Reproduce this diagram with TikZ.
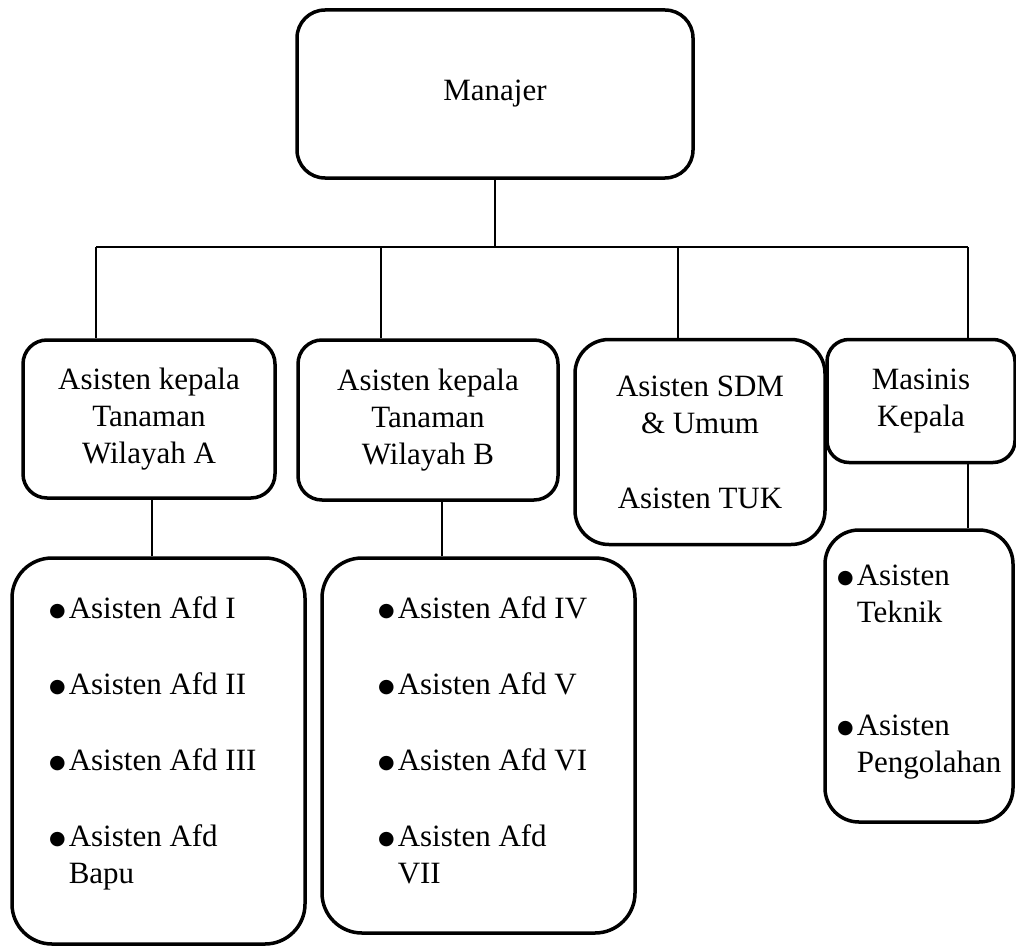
\documentclass[tikz,border=0pt]{standalone}
\usepackage{fontspec}
\setmainfont{Liberation Serif}
\newfontfamily\dotfont{DejaVu Sans}
\newcommand\itemdot{\raisebox{2pt}{\fontsize{19}{37}\dotfont ●}}
\begin{document}
\begin{tikzpicture}[x=1pt, y=-1pt,
  box/.style={draw, line width=3.5pt, rounded corners=#1, align=center, inner sep=0pt},
  box/.default=24pt,
  list/.style={anchor=north west, inner sep=0pt, align=left},
  link/.style={line width=1.3pt},
  font=\fontsize{31}{37}\selectfont]
\useasboundingbox (0,0) rectangle (1016,947);

% top
\node[box=28pt, minimum width=396pt, minimum height=168pt] (manajer) at (495,94) {Manajer};

% second level
\node[box, minimum width=252pt, minimum height=158pt] (kepA) at (149,419) {Asisten kepala\\Tanaman\\Wilayah A};
\node[box, minimum width=260pt, minimum height=160pt] (kepB) at (428,420) {Asisten kepala\\Tanaman\\Wilayah B};
\node[box=34pt, minimum width=250pt, minimum height=205pt] (sdm) at (700,442) {Asisten SDM\\\& Umum\\[38pt]Asisten TUK};
\node[box=22pt, minimum width=188pt, minimum height=123pt] (masinis) at (921,401) {Masinis\\Kepala};

% third level
\node[box=40pt, minimum width=293pt, minimum height=386pt] (afdA) at (158.5,751) {};
\node[box=40pt, minimum width=313pt, minimum height=375pt] (afdB) at (478.5,745.5) {};
\node[box=34pt, minimum width=188pt, minimum height=292pt] (teknik) at (919,676) {};

\node[list] (afdA-txt) at (49,592) {\begin{tabular}{@{}l@{\hspace{3pt}}l@{}}
\itemdot & Asisten Afd I\\[39pt]
\itemdot & Asisten Afd II\\[39pt]
\itemdot & Asisten Afd III\\[39pt]
\itemdot & Asisten Afd\\
 & Bapu
\end{tabular}};
\node[list] (afdB-txt) at (378,592) {\begin{tabular}{@{}l@{\hspace{3pt}}l@{}}
\itemdot & Asisten Afd IV\\[39pt]
\itemdot & Asisten Afd V\\[39pt]
\itemdot & Asisten Afd VI\\[39pt]
\itemdot & Asisten Afd\\
 & VII
\end{tabular}};
\node[list] (teknik-txt) at (837,559) {\begin{tabular}{@{}l@{\hspace{3pt}}l@{}}
\itemdot & Asisten\\
 & Teknik\\[76pt]
\itemdot & Asisten\\
 & Pengolahan
\end{tabular}};

% connectors
\coordinate (bus) at (manajer.south |- 0,247);
\draw[link] (manajer.south) -- (bus);
\foreach \n/\x in {kepA/96, kepB/381, sdm/678, masinis/968}
{
    \coordinate (bus-\n) at (\x,247);
    \draw[link] (bus-\n) -- (bus-\n |- \n.north);
}
\draw[link] (bus-kepA) -- (bus-masinis);

\draw[link] ([xshift=3pt]kepA.south) -- ([xshift=3pt]kepA.south |- afdA.north);
\draw[link] ([xshift=14pt]kepB.south) -- ([xshift=14pt]kepB.south |- afdB.north);
\draw[link] ([xshift=47pt]masinis.south) -- ([xshift=47pt]masinis.south |- teknik.north);
\end{tikzpicture}
\end{document}
